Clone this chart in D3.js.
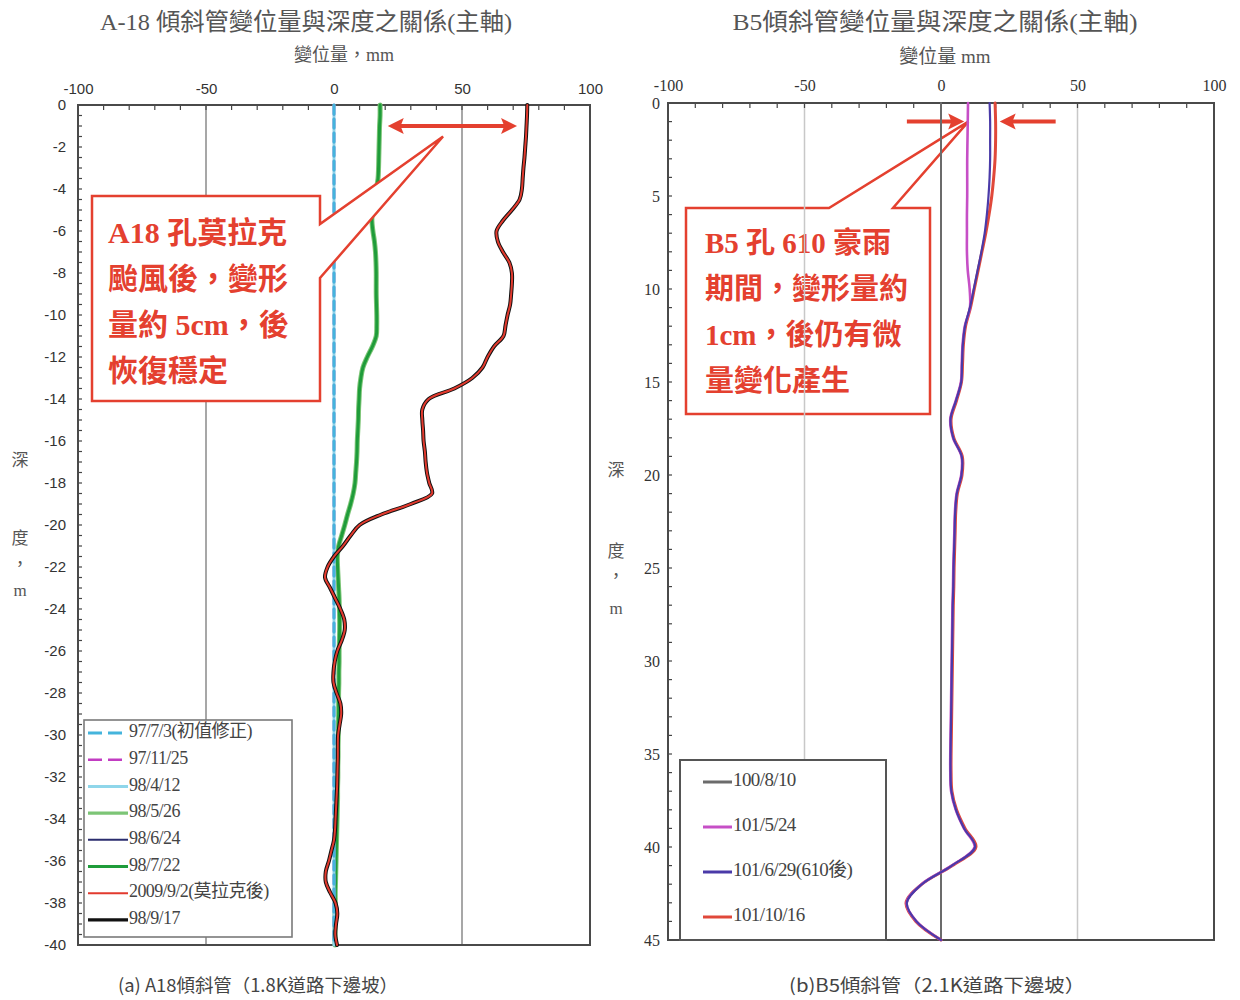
<!DOCTYPE html>
<html>
<head>
<meta charset="utf-8">
<script src="https://cdn.jsdelivr.net/npm/d3@7/dist/d3.min.js"></script>
<style>
  html, body { margin: 0; padding: 0; background: #fff; }
  svg { display: block; }
</style>
</head>
<body>
<svg id="chart" width="1240" height="1000"></svg>
<script>
// ---------- A-18 inclinometer (depth 0 .. -40 m, every 0.5 m) ----------
const depthsA = d3.range(0, 81).map(i => -i * 0.5);

const a_970703 = depthsA.map(() => 0);
const a_971125 = depthsA.map(() => 0);
const a_980412 = depthsA.map(() => 0);

const a_980722 = [
  18, 18, 17.8, 17.7, 17.6, 17.5, 17.4, 17.2, 16.5, 15.5,
  15, 14.8, 15.2, 15.8, 16.2, 16.4, 16.5, 16.5, 16.5, 16.6,
  16.7, 16.7, 16.5, 15, 13, 11.3, 10.5, 10, 9.8, 9.6,
  9.5, 9.3, 9.1, 9, 8.8, 8.5, 8.2, 7.5, 6.5, 5.3,
  4.2, 3, 1.8, 1.3, 1.4, 1.6, 1.8, 2,
  2.1, 2.2, 2.2, 2.1, 2, 2, 1.9, 1.9, 1.8, 1.8,
  1.8, 1.7, 1.7, 1.6, 1.6, 1.5, 1.5, 1.4, 1.4, 1.3,
  1.2, 1.1, 1, 0.9, 0.8, 0.7, 0.6, 0.5, 0.5, 0.4,
  0.4, 0.4, 0.4
];
const a_980526 = a_980722.slice();
const a_980624 = a_980722.slice();

const a_980917 = [
  75.5, 75.4, 75.2, 75, 74.7, 74.4, 74, 73.7, 73.4, 72.5,
  69.5, 66, 63.5, 64, 66, 68.5, 69.5, 69.5, 69.2, 68.8,
  67.8, 67, 66.2, 62.5, 60, 58, 54, 47, 37, 34.5,
  34.5, 34.8, 35, 35.5, 35.8, 36.3, 37.2, 38.3, 30, 18.5,
  10, 6.5, 3.5, 0, -2.5, -3.5, -1.5, 0.5, 2.5, 4,
  4.2, 3, 1.3, 0.3, -0.2, -0.2, 1, 2.5, 2.8, 2.2,
  1.6, 1.5, 1.5, 1.4, 1.3, 1.2, 1, 0.8, 0.6, 0.4,
  0, -1, -2, -3.2, -3.2, -1.5, 0.6, 1.3, 0.8, 0.5,
  1.2
];
const a_20090902 = a_980917.slice();

const seriesA = [
  { name: "97/7/3(初值修正)", values: a_970703 },
  { name: "97/11/25", values: a_971125 },
  { name: "98/4/12", values: a_980412 },
  { name: "98/5/26", values: a_980526 },
  { name: "98/6/24", values: a_980624 },
  { name: "98/7/22", values: a_980722 },
  { name: "2009/9/2(莫拉克後)", values: a_20090902 },
  { name: "98/9/17", values: a_980917 }
];
const styleA = {
  "97/7/3(初值修正)": { color: "#44b4dc", width: 3, dash: "9,5" },
  "97/11/25": { color: "#c23cc2", width: 2.5, dash: "9,5" },
  "98/4/12": { color: "#8fd6ea", width: 3, dash: null },
  "98/5/26": { color: "#7cc576", width: 5, dash: null },
  "98/6/24": { color: "#2b2d6e", width: 2, dash: null },
  "98/7/22": { color: "#1f9c3a", width: 3, dash: null },
  "2009/9/2(莫拉克後)": { color: "#e23a2e", width: 2, dash: null },
  "98/9/17": { color: "#111111", width: 4, dash: null }
};
// stacking order of the lines (first = bottom)
const drawOrderA = ["98/6/24", "98/5/26", "98/7/22", "98/4/12", "97/11/25", "97/7/3(初值修正)", "98/9/17", "2009/9/2(莫拉克後)"];

// ---------- B5 inclinometer (depth 0 .. 45 m, every 1 m) ----------
const depthsB = d3.range(0, 46);

const b_1000810 = depthsB.map(() => 0);
const b_1010629 = [
  17.8, 18, 18, 18, 17.8, 17.4, 16.8, 16, 14.8, 13.4,
  12, 10.6, 8.8, 8, 7.7, 7.4, 5.5, 3.5, 4.5, 7.6,
  7.5, 5.8, 5.2, 5, 4.8, 4.6, 4.5, 4.3, 4.2, 4.1,
  4, 3.9, 3.8, 3.7, 3.6, 3.5, 3.5, 3.8, 5.5, 8.5,
  12.5, 4, -7, -12.5, -9, 0
];
const b_1011016 = [
  19.8, 20, 20, 19.8, 19.3, 18.6, 17.6, 16.4, 15, 13.6,
  12.2, 10.8, 9, 8.2, 7.9, 7.5, 5.7, 3.7, 4.7, 7.8,
  7.7, 6, 5.4, 5.2, 5, 4.8, 4.7, 4.5, 4.4, 4.3,
  4.2, 4.1, 4, 3.9, 3.8, 3.7, 3.7, 4, 5.7, 8.8,
  12.8, 4.2, -7, -12.8, -9.2, 0
];
const b_1010524 = [
  9.9, 9.8, 9.7, 9.6, 9.6, 9.6, 9.5, 9.5, 9.5, 9.8,
  10.5, 10.6, 8.7, 7.9, 7.6, 7.3, 5.4, 3.4, 4.4, 7.5,
  7.4, 5.7, 5.1, 4.9, 4.7, 4.5, 4.4, 4.2, 4.1, 4,
  3.9, 3.8, 3.7, 3.6, 3.5, 3.4, 3.4, 3.7, 5.4, 8.4,
  12.3, 3.9, -7.1, -12.6, -9, 0
];

const seriesB = [
  { name: "100/8/10", values: b_1000810 },
  { name: "101/5/24", values: b_1010524 },
  { name: "101/6/29(610後)", values: b_1010629 },
  { name: "101/10/16", values: b_1011016 }
];
const styleB = {
  "100/8/10": { color: "#6b6b6b", width: 2 },
  "101/5/24": { color: "#c64fc6", width: 2.6 },
  "101/6/29(610後)": { color: "#4a3aa8", width: 2.2 },
  "101/10/16": { color: "#e0483a", width: 3 }
};
const drawOrderB = ["100/8/10", "101/10/16", "101/5/24", "101/6/29(610後)"];

const xTicks = [-100, -50, 0, 50, 100];
const yTicksA = d3.range(0, 21).map(i => -i * 2);
const yTicksB = [0, 5, 10, 15, 20, 25, 30, 35, 40, 45];

// ---------- drawing ----------
const svg = d3.select("#chart");
const serif = "'Liberation Serif', 'Noto Sans CJK TC', serif";
const sans = "'Liberation Sans', Arial, sans-serif";
const cjk = "'Noto Sans CJK TC', sans-serif";
const RED = "#e4402f";
const plain = d => String(d);   // hyphen-minus, as printed on the axes

// scales
const xA = d3.scaleLinear().domain([-100, 100]).range([78, 590]);
const yA = d3.scaleLinear().domain([0, -40]).range([105, 945]);
const xB = d3.scaleLinear().domain([-100, 100]).range([668, 1214]);
const yB = d3.scaleLinear().domain([0, 45]).range([103, 940]);

function panel(g, x, y, opts) {
  const [x0, x1] = x.range();
  const [y0, y1] = y.range();
  // vertical grid lines
  g.selectAll("line.grid").data(opts.grid).join("line")
    .attr("class", "grid")
    .attr("x1", d => x(d)).attr("x2", d => x(d))
    .attr("y1", y0).attr("y2", y1)
    .attr("stroke", opts.gridColor).attr("stroke-width", 1.5);

  // top axis (minor ticks inward every 10 mm)
  const top = d3.axisTop(x).tickValues(xTicks).tickSize(0).tickPadding(opts.xPad).tickFormat(plain);
  const gt = g.append("g").attr("transform", `translate(0,${y0})`).call(top);
  gt.select(".domain").remove();
  gt.selectAll("text").attr("font-family", opts.tickFont).attr("font-size", opts.tickSize).attr("fill", "#333");
  g.append("g").selectAll("line").data(d3.range(-100, 101, 10)).join("line")
    .attr("x1", d => x(d)).attr("x2", d => x(d))
    .attr("y1", y0).attr("y2", y0 + 5)
    .attr("stroke", "#444").attr("stroke-width", 1.2);

  // left axis
  const left = d3.axisLeft(y).tickValues(opts.yTicks).tickSize(0).tickPadding(opts.yPad).tickFormat(plain);
  const gl = g.append("g").attr("transform", `translate(${x0},0)`).call(left);
  gl.select(".domain").remove();
  gl.selectAll("text").attr("font-family", opts.tickFont).attr("font-size", opts.tickSize).attr("fill", "#333");
  g.append("g").selectAll("line").data(opts.yMinor).join("line")
    .attr("x1", x0).attr("x2", x0 + 4)
    .attr("y1", d => y(d)).attr("y2", d => y(d))
    .attr("stroke", "#444").attr("stroke-width", 1.2);

  // frame
  g.append("rect")
    .attr("x", x0).attr("y", y0).attr("width", x1 - x0).attr("height", y1 - y0)
    .attr("fill", "none").attr("stroke", "#4a4a4a").attr("stroke-width", 2);
}

function drawSeries(g, series, style, order, x, y, depths) {
  const line = d3.line()
    .x(d => x(d[0])).y(d => y(d[1]))
    .curve(d3.curveCatmullRom.alpha(0.5));
  order.forEach(name => {
    const s = series.find(t => t.name === name);
    const st = style[name];
    const pts = s.values.map((v, i) => [v, depths[i]]);
    g.append("path")
      .attr("d", line(pts))
      .attr("fill", "none")
      .attr("stroke", st.color)
      .attr("stroke-width", st.width)
      .attr("stroke-dasharray", st.dash || null)
      .attr("stroke-linejoin", "round")
      .attr("stroke-linecap", "round");
  });
}

// ===== left panel: A-18 =====
const gA = svg.append("g");
panel(gA, xA, yA, {
  grid: [-50, 0, 50], gridColor: "#8a8a8a",
  tickFont: sans, tickSize: 15, xPad: 11, yPad: 12,
  yTicks: yTicksA, yMinor: d3.range(0, 81).map(i => -i * 0.5)
});
drawSeries(gA, seriesA, styleA, drawOrderA, xA, yA, depthsA);

svg.append("text").attr("x", 306).attr("y", 30).attr("text-anchor", "middle")
  .attr("font-family", serif).attr("font-size", 24).attr("fill", "#555")
  .attr("textLength", 412).attr("lengthAdjust", "spacingAndGlyphs")
  .text("A-18 傾斜管變位量與深度之關係(主軸)");
svg.append("text").attr("x", 344).attr("y", 61).attr("text-anchor", "middle")
  .attr("font-family", serif).attr("font-size", 18).attr("fill", "#555")
  .text("變位量，mm");
[["深", 462], ["度", 540], ["，", 566], ["m", 592]].forEach(([t, yy]) => {
  svg.append("text").attr("x", 20).attr("y", yy).attr("text-anchor", "middle")
    .attr("dominant-baseline", "middle")
    .attr("font-family", serif).attr("font-size", 17).attr("fill", "#555").text(t);
});

// legend A
const legA = svg.append("g");
legA.append("rect").attr("x", 84).attr("y", 720).attr("width", 208).attr("height", 217)
  .attr("fill", "#fff").attr("stroke", "#7a7a7a").attr("stroke-width", 1.6);
seriesA.forEach((s, i) => {
  const yy = 733 + i * 26.7;
  const st = styleA[s.name];
  legA.append("line").attr("x1", 88).attr("x2", 128).attr("y1", yy).attr("y2", yy)
    .attr("stroke", st.color).attr("stroke-width", Math.min(st.width, 3.2))
    .attr("stroke-dasharray", st.dash ? "14,6" : null);
  legA.append("text").attr("x", 129).attr("y", yy).attr("dominant-baseline", "middle")
    .attr("font-family", serif).attr("font-size", 18).attr("fill", "#444")
    .attr("letter-spacing", -0.6).text(s.name);
});

// annotation A
const ann = svg.append("g");
const tipA = [xA(42.6), yA(-1.5)];
ann.append("path")
  .attr("d", `M92,196 H320 V224 L${tipA[0]},${tipA[1]} L320,278 V401 H92 Z`)
  .attr("fill", "#fff").attr("stroke", RED).attr("stroke-width", 2.5).attr("stroke-linejoin", "miter");
["A18 孔莫拉克", "颱風後，變形", "量約 5cm，後", "恢復穩定"].forEach((t, i) => {
  ann.append("text").attr("x", 108).attr("y", 243 + i * 46)
    .attr("font-family", serif).attr("font-size", 30).attr("font-weight", "bold")
    .attr("fill", RED).text(t);
});

function arrowHead(g, tipX, tipY, dir) {
  const L = 16, W = 8;
  g.append("path")
    .attr("d", `M${tipX},${tipY} L${tipX - dir * L},${tipY - W} L${tipX - dir * L * 0.8},${tipY} L${tipX - dir * L},${tipY + W} Z`)
    .attr("fill", RED);
}
// double arrow between the two curves at the top
{
  const yy = yA(-1), xl = xA(21), xr = xA(71.5);
  ann.append("line").attr("x1", xl + 10).attr("x2", xr - 10).attr("y1", yy).attr("y2", yy)
    .attr("stroke", RED).attr("stroke-width", 4);
  arrowHead(ann, xl, yy, -1);
  arrowHead(ann, xr, yy, 1);
}

// ===== right panel: B5 =====
const gB = svg.append("g");
panel(gB, xB, yB, {
  grid: [-50, 50], gridColor: "#c8c8c8",
  tickFont: serif, tickSize: 16, xPad: 12, yPad: 8,
  yTicks: yTicksB, yMinor: d3.range(0, 46)
});
drawSeries(gB, seriesB, styleB, drawOrderB, xB, yB, depthsB);

svg.append("text").attr("x", 935).attr("y", 30).attr("text-anchor", "middle")
  .attr("font-family", serif).attr("font-size", 24).attr("fill", "#555")
  .attr("textLength", 405).attr("lengthAdjust", "spacingAndGlyphs")
  .text("B5傾斜管變位量與深度之關係(主軸)");
svg.append("text").attr("x", 945).attr("y", 63).attr("text-anchor", "middle")
  .attr("font-family", serif).attr("font-size", 19).attr("fill", "#555")
  .text("變位量 mm");
[["深", 472], ["度", 553], ["，", 578], ["m", 610]].forEach(([t, yy]) => {
  svg.append("text").attr("x", 616).attr("y", yy).attr("text-anchor", "middle")
    .attr("dominant-baseline", "middle")
    .attr("font-family", serif).attr("font-size", 17).attr("fill", "#555").text(t);
});

// legend B
const legB = svg.append("g");
legB.append("rect").attr("x", 680).attr("y", 760).attr("width", 206).attr("height", 180)
  .attr("fill", "#fff").attr("stroke", "#555").attr("stroke-width", 2);
seriesB.forEach((s, i) => {
  const yy = 782 + i * 45;
  const st = styleB[s.name];
  legB.append("line").attr("x1", 703).attr("x2", 732).attr("y1", yy).attr("y2", yy)
    .attr("stroke", st.color).attr("stroke-width", 3);
  legB.append("text").attr("x", 733).attr("y", yy).attr("dominant-baseline", "middle")
    .attr("font-family", serif).attr("font-size", 19).attr("fill", "#444")
    .attr("letter-spacing", -0.6).text(s.name);
});

// annotation B
const tipB = [xB(10), yB(1)];
ann.append("path")
  .attr("d", `M686,208 H829 L${tipB[0]},${tipB[1]} L893,208 H930 V414 H686 Z`)
  .attr("fill", "#fff").attr("stroke", RED).attr("stroke-width", 2.5).attr("stroke-linejoin", "miter");
["B5 孔 610 豪雨", "期間，變形量約", "1cm，後仍有微", "量變化產生"].forEach((t, i) => {
  ann.append("text").attr("x", 705).attr("y", 253 + i * 46)
    .attr("font-family", serif).attr("font-size", 29).attr("font-weight", "bold")
    .attr("fill", RED).text(t);
});
{
  const yy = yB(1);
  ann.append("line").attr("x1", xB(-12.5)).attr("x2", xB(5)).attr("y1", yy).attr("y2", yy)
    .attr("stroke", RED).attr("stroke-width", 4);
  arrowHead(ann, xB(8.5), yy, 1);
  ann.append("line").attr("x1", xB(42)).attr("x2", xB(25)).attr("y1", yy).attr("y2", yy)
    .attr("stroke", RED).attr("stroke-width", 4);
  arrowHead(ann, xB(21.5), yy, -1);
}

// captions
svg.append("text").attr("x", 258).attr("y", 992).attr("text-anchor", "middle")
  .attr("font-family", cjk).attr("font-size", 18).attr("fill", "#444")
  .attr("textLength", 280).attr("lengthAdjust", "spacingAndGlyphs")
  .text("(a) A18傾斜管（1.8K道路下邊坡）");
svg.append("text").attr("x", 937).attr("y", 992).attr("text-anchor", "middle")
  .attr("font-family", cjk).attr("font-size", 18).attr("fill", "#444")
  .attr("textLength", 296).attr("lengthAdjust", "spacingAndGlyphs")
  .text("(b)B5傾斜管（2.1K道路下邊坡）");
</script>
</body>
</html>
